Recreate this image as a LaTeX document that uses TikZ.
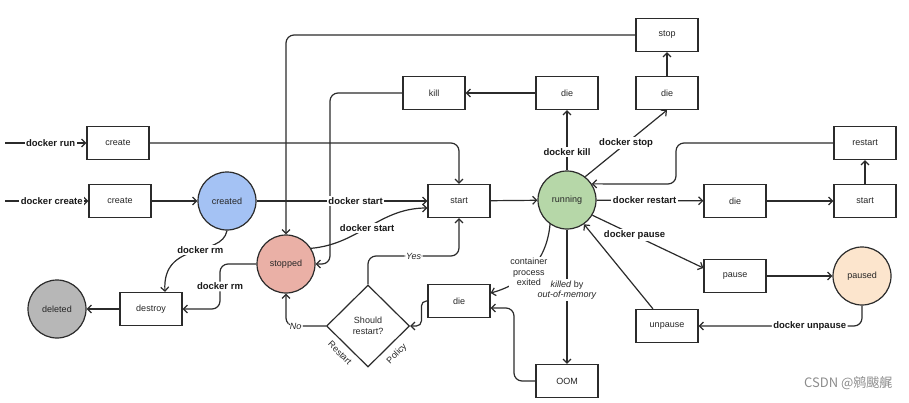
\documentclass[tikz,border=0pt]{standalone}
\usepackage{fontspec}
\setmainfont{Liberation Sans}
\newfontfamily\cjkfont{Noto Sans CJK SC}
\usetikzlibrary{arrows.meta,shapes.geometric,calc}
\definecolor{cblue}{HTML}{A4C2F4}
\definecolor{cgreen}{HTML}{B6D7A8}
\definecolor{cred}{HTML}{EAB0A6}
\definecolor{corange}{HTML}{FCE5CD}
\definecolor{cgray}{HTML}{B7B7B7}
\definecolor{cline}{HTML}{2B2B2B}
\tikzset{
  box/.style={draw=cline, line width=1.2pt, fill=white, minimum width=62pt, minimum height=33pt, inner sep=1pt, font=\fontsize{9}{10}\selectfont, text=black!85},
  circ/.style={circle, draw=cline, line width=1.2pt, minimum size=58pt, inner sep=0pt, font=\fontsize{9}{10}\selectfont, text=black!85},
  arr/.style={draw=cline, line width=1.2pt, -{Straight Barb[length=4pt,width=8pt]}},
  lbl/.style={fill=white, inner sep=1.5pt, font=\bfseries\fontsize{9.5}{10.5}\selectfont, text=black!90},
  ilbl/.style={fill=white, inner sep=1.5pt, font=\fontsize{9}{10.5}\selectfont, text=black!85, align=center},
  elbl/.style={inner sep=0pt, font=\fontsize{9}{10}\selectfont, text=black!85},
}
\begin{document}
\begin{tikzpicture}[x=1pt,y=-1pt]
\useasboundingbox (0,0) rectangle (909,402);
% nodes
\node[box] (create1) at (118,143) {create};
\node[box] (create2) at (120,201) {create};
\node[circ, fill=cblue] (created) at (227,201) {created};
\node[box] (start) at (459,201) {start};
\node[circ, fill=cgreen] (running) at (567,200) {running};
\node[box] (kill) at (434,93) {kill};
\node[box] (dieK) at (567,93) {die};
\node[box] (dieS) at (667,93) {die};
\node[box] (stop) at (667,35) {stop};
\node[box] (restart) at (865,143) {restart};
\node[box] (dieR) at (735,201) {die};
\node[box] (startR) at (865,201) {start};
\node[box] (pause) at (735,276) {pause};
\node[circ, fill=corange] (paused) at (862,276) {paused};
\node[box] (unpause) at (667,326) {unpause};
\node[box] (oom) at (567,381) {OOM};
\node[box] (dieL) at (459,301) {die};
\node[box] (destroy) at (151,309) {destroy};
\node[circ, fill=cgray] (deleted) at (57,309) {deleted};
\node[circ, fill=cred] (stopped) at (286,264) {stopped};
\node[diamond, draw=cline, line width=1.2pt, minimum width=83pt, minimum height=82pt, inner sep=0pt, align=center, font=\fontsize{9}{11}\selectfont, text=black!85] (dec) at (368,326) {Should\\restart?};
\node[elbl, rotate=-45] (rpol) at (340,353) {Restart};
\node[elbl, rotate=45] (ppol) at (397,354) {Policy};
\coordinate (runin) at (5,143);
\coordinate (createin) at (5,201);
\coordinate (k1) at (330,264);
\coordinate (k2) at (676,184);
\coordinate (k3) at (514,308);
\coordinate (k4) at (459,256);
\coordinate (k5) at (220,309);
% connectors
\draw[arr] (runin) -- node[lbl, pos=0.56]{docker run} (create1);
\draw[arr] (createin) -- node[lbl, pos=0.56]{docker create} (create2);
\draw[arr, rounded corners=8pt] (create1.east) -| (start.north);
\draw[arr] (create2) -- (created);
\draw[arr, rounded corners=8pt] (stop.west) -| (stopped.north);
\draw[arr, rounded corners=8pt] (kill.west) -| (k1) -- (stopped.east);
\draw[arr] (created) -- node[lbl, pos=0.58]{docker start} (start);
\draw[arr] (stopped.32) to[out=5, in=180] node[lbl, pos=0.48]{docker start} ([yshift=-7pt]start.west);
\draw[arr] (start) -- (running);
\draw[arr] (dieK) -- (kill);
\draw[arr] (running) -- node[lbl, pos=0.3]{docker kill} (dieK);
\draw[arr] (running.52) -- node[lbl, pos=0.5]{docker stop} (dieS.south);
\draw[arr] (dieS) -- (stop);
\draw[arr] (running) -- node[lbl, pos=0.45]{docker restart} (dieR);
\draw[arr] (dieR) -- (startR);
\draw[arr] (startR) -- (restart);
\draw[arr, rounded corners=8pt] (restart.west) -| (k2) -- (running.33);
\draw[arr] (running.-31) -- node[lbl, pos=0.38]{docker pause} ([yshift=8pt]pause.west);
\draw[arr] (pause) -- (paused);
\draw[arr, rounded corners=8pt] (paused.south) |- node[lbl, pos=0.66]{docker unpause} (unpause.east);
\draw[arr] ([xshift=-14pt]unpause.north) -- (running.-55);
\draw[arr] (running.south) -- node[ilbl, pos=0.45]{\textit{killed} by\\\textit{out-of-memory}} (oom.north);
\draw[arr] (running.-125) to[out=-95, in=15] node[ilbl, pos=0.55]{container\\process\\exited} ([yshift=8pt]dieL.east);
\draw[arr, rounded corners=8pt] (oom.west) -| (k3) -- ([yshift=-7pt]dieL.east);
\draw[arr, rounded corners=5pt] (dieL.west) -- ++(-6,0) |- (dec.east);
\draw[arr, rounded corners=8pt] (dec.north) |- node[ilbl, pos=0.75]{\textit{Yes}} (k4) -- (start.south);
\draw[arr, rounded corners=8pt] (dec.west) -| node[ilbl, pos=0.38]{\textit{No}} (stopped.south);
\draw[arr] (created.south) .. controls (222,258) and (162,240) .. node[lbl, pos=0.42]{docker rm} ([xshift=14pt]destroy.north);
\draw[arr, rounded corners=8pt] (stopped.west) -| node[lbl, pos=0.75]{docker rm} (k5) -- (destroy.east);
\draw[arr] (destroy) -- (deleted);
% watermark
\node[text=black!45, font=\cjkfont\fontsize{13}{14}\selectfont, anchor=east] (wm) at (896,383) {CSDN @鹓颰艉};
\end{tikzpicture}
\end{document}
